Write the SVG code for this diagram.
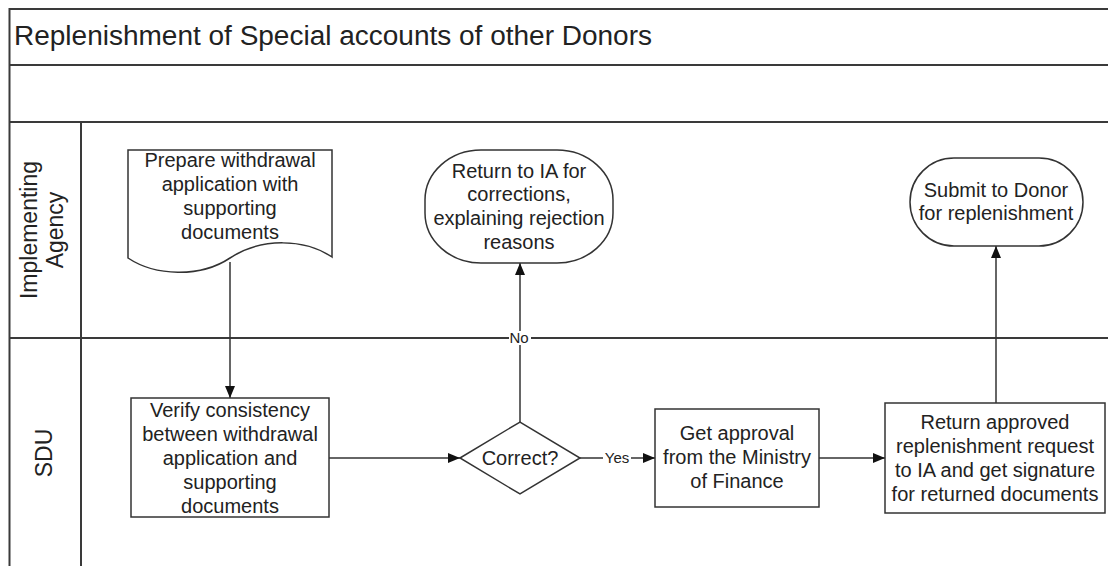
<svg xmlns="http://www.w3.org/2000/svg" width="1108" height="566" viewBox="0 0 1108 566">
<style>
.frame{fill:none;stroke:#3a3a3a;stroke-width:2}
.shape{fill:#fff;stroke:#333;stroke-width:1.5}
.conn{fill:none;stroke:#333;stroke-width:1.5}
text{font-family:"Liberation Sans",Arial,sans-serif;fill:#222}
.t{font-size:20px;text-anchor:middle}
.lane{font-size:23px;text-anchor:middle}
.lbl{font-size:15px;text-anchor:middle}
</style>
<defs>
<marker id="arr" markerWidth="12" markerHeight="12" refX="12" refY="6" orient="auto" markerUnits="userSpaceOnUse">
<path d="M0,1 L12,6 L0,11 Z" fill="#111"/>
</marker>
</defs>
<rect x="0" y="0" width="1108" height="566" fill="#fff"/>
<g id="pool">
<path class="frame" d="M1110,9 H9.5 V570"/>
<line class="frame" x1="9" y1="65" x2="1110" y2="65"/>
<line class="frame" x1="9" y1="122" x2="1110" y2="122"/>
<line class="frame" x1="81" y1="122" x2="81" y2="570" stroke-width="1.5"/>
<line class="frame" x1="9" y1="338" x2="1110" y2="338" stroke-width="1.5"/>
<text x="14" y="45" font-size="27px" textLength="638" lengthAdjust="spacingAndGlyphs">Replenishment of Special accounts of other Donors</text>
<text class="lane" transform="translate(37,230) rotate(-90)">Implementing</text>
<text class="lane" transform="translate(63,230) rotate(-90)">Agency</text>
<text class="lane" transform="translate(52,453) rotate(-90)">SDU</text>
</g>
<g id="connectors">
<line class="conn" x1="230" y1="262" x2="230" y2="398" marker-end="url(#arr)"/>
<line class="conn" x1="329" y1="458" x2="460" y2="458" marker-end="url(#arr)"/>
<line class="conn" x1="520" y1="422" x2="520" y2="263" marker-end="url(#arr)"/>
<rect x="509" y="331" width="22" height="14" fill="#fff"/>
<text class="lbl" x="519" y="343">No</text>
<line class="conn" x1="580" y1="458" x2="655" y2="458" marker-end="url(#arr)"/>
<rect x="603" y="451" width="28" height="14" fill="#fff"/>
<text class="lbl" x="617" y="463">Yes</text>
<line class="conn" x1="819" y1="458" x2="885" y2="458" marker-end="url(#arr)"/>
<line class="conn" x1="996" y1="403" x2="996" y2="246" marker-end="url(#arr)"/>
</g>
<g id="prepare">
<path class="shape" d="M128,150 H332 V257 C305,239 262,237 230,258 C200,278 155,276 128,258 Z"/>
<text class="t" x="230" y="167">Prepare withdrawal</text>
<text class="t" x="230" y="191">application with</text>
<text class="t" x="230" y="215">supporting</text>
<text class="t" x="230" y="239">documents</text>
</g>
<g id="returnIA">
<rect class="shape" x="425" y="150" width="188" height="113" rx="56" ry="50"/>
<text class="t" x="519" y="178">Return to IA for</text>
<text class="t" x="519" y="201">corrections,</text>
<text class="t" x="519" y="225">explaining rejection</text>
<text class="t" x="519" y="249">reasons</text>
</g>
<g id="submit">
<rect class="shape" x="910" y="158" width="173" height="88" rx="44" ry="44"/>
<text class="t" x="996" y="197">Submit to Donor</text>
<text class="t" x="996" y="220">for replenishment</text>
</g>
<g id="verify">
<rect class="shape" x="131" y="398" width="198" height="119"/>
<text class="t" x="230" y="417">Verify consistency</text>
<text class="t" x="230" y="441">between withdrawal</text>
<text class="t" x="230" y="465">application and</text>
<text class="t" x="230" y="489">supporting</text>
<text class="t" x="230" y="513">documents</text>
</g>
<g id="correct">
<path class="shape" d="M460,458 L520,422 L580,458 L520,494 Z"/>
<text class="t" x="520" y="465">Correct?</text>
</g>
<g id="approval">
<rect class="shape" x="655" y="409" width="164" height="98"/>
<text class="t" x="737" y="440">Get approval</text>
<text class="t" x="737" y="464">from the Ministry</text>
<text class="t" x="737" y="488">of Finance</text>
</g>
<g id="returnApproved">
<rect class="shape" x="885" y="403" width="220" height="110"/>
<text class="t" x="995" y="429">Return approved</text>
<text class="t" x="995" y="453">replenishment request</text>
<text class="t" x="995" y="477">to IA and get signature</text>
<text class="t" x="995" y="501">for returned documents</text>
</g>
</svg>
